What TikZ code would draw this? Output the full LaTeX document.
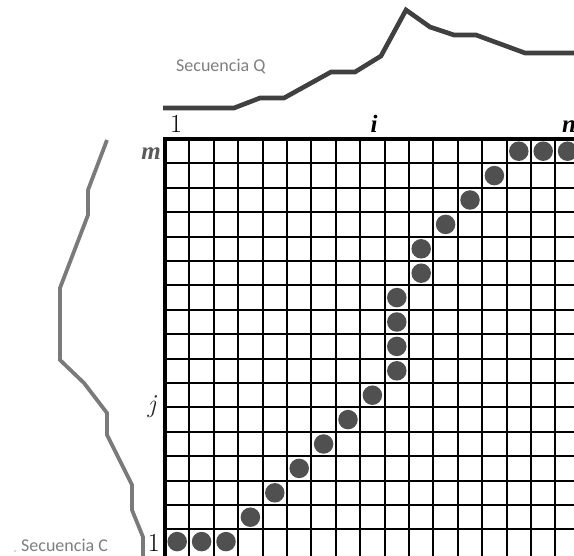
\documentclass[tikz,border=0pt]{standalone}
\usepackage{fontspec}
\newfontfamily\calib{Carlito}
\newfontfamily\tnr{Liberation Serif}
\definecolor{dotgray}{HTML}{505050}
\definecolor{qline}{HTML}{404040}
\definecolor{cline}{HTML}{7A7A7A}
\definecolor{txtgray}{HTML}{7F7F7F}
\definecolor{mgray}{HTML}{5A5A5A}
\tikzset{
  gridline/.style={line width=1.9pt, black},
  frameline/.style={line width=3.6pt, black},
  dtw/.style={circle, fill=dotgray, draw=none, minimum size=19.5pt, inner sep=0pt},
  seqq/.style={line width=4.6pt, qline, line join=miter},
  seqc/.style={line width=3.8pt, cline, line join=miter},
  seqlabel/.style={font=\calib\fontsize{18}{20}\selectfont, text=txtgray, inner sep=0pt},
  numlabel/.style={inner sep=0pt, font=\fontsize{26}{28}\selectfont},
  letlabel/.style={inner sep=0pt, font=\tnr\bfseries\itshape\fontsize{25}{28}\selectfont}
}
\begin{document}
\begin{tikzpicture}[x=1pt,y=-1pt]
\useasboundingbox (0,0) rectangle (574,556);
\clip (0,0) rectangle (574,556);
\fill[white] (0,0) rectangle (574,556);
% grid
\foreach \k in {0,...,17} \draw[gridline] ({165+24.4*\k},139) -- ({165+24.4*\k},562);
\foreach \k in {1,...,16} \draw[gridline] (165,{139+24.4*\k}) -- (585,{139+24.4*\k});
\draw[frameline] (165,562) -- (165,139) -- (585,139);
% warping path
\foreach \c/\r [count=\n] in {1/1,2/1,3/1,4/2,5/3,6/4,7/5,8/6,9/7,10/8,10/9,10/10,10/11,11/12,11/13,12/14,13/15,14/16,15/17,16/17,17/17}
  \node[dtw] (p\n) at ({165+24.4*(\c-0.5)},{139+24.4*(17-\r)+12.2}) {};
% axis labels
\node[numlabel, anchor=base] (one1) at (176,133) {1};
\node[letlabel, anchor=base] (ilab) at (374,133) {i};
\node[letlabel, anchor=base west] (nlab) at (562,133) {n};
\node[letlabel, text=mgray, anchor=base east] (mlab) at (161,160) {m};
\node[inner sep=0pt, font=\itshape\fontsize{26}{28}\selectfont, text=black!85, anchor=base east] (jlab) at (156,413) {j};
\node[numlabel, anchor=base east] (one2) at (160,551) {1};
% sequences
\draw[seqq] (163,108) -- (234,108) -- (260,98) -- (284,98) -- (331,72) -- (355,72) -- (381,56) -- (406,10) -- (430,27) -- (454,35) -- (476,35) -- (525,53) -- (580,53);
\draw[seqc] (107,140) -- (88,190) -- (88,215) -- (60,288) -- (60,360) -- (84,383) -- (107,413) -- (107,435) -- (132,485) -- (132,510) -- (143,537) -- (143,562);
\node[seqlabel, anchor=west] (sq) at (176,67) {Secuencia Q};
\node[seqlabel, anchor=west] (sc) at (21,545) {Secuencia C};
\fill[txtgray!60] (15,551) circle (0.9);
\end{tikzpicture}
\end{document}
